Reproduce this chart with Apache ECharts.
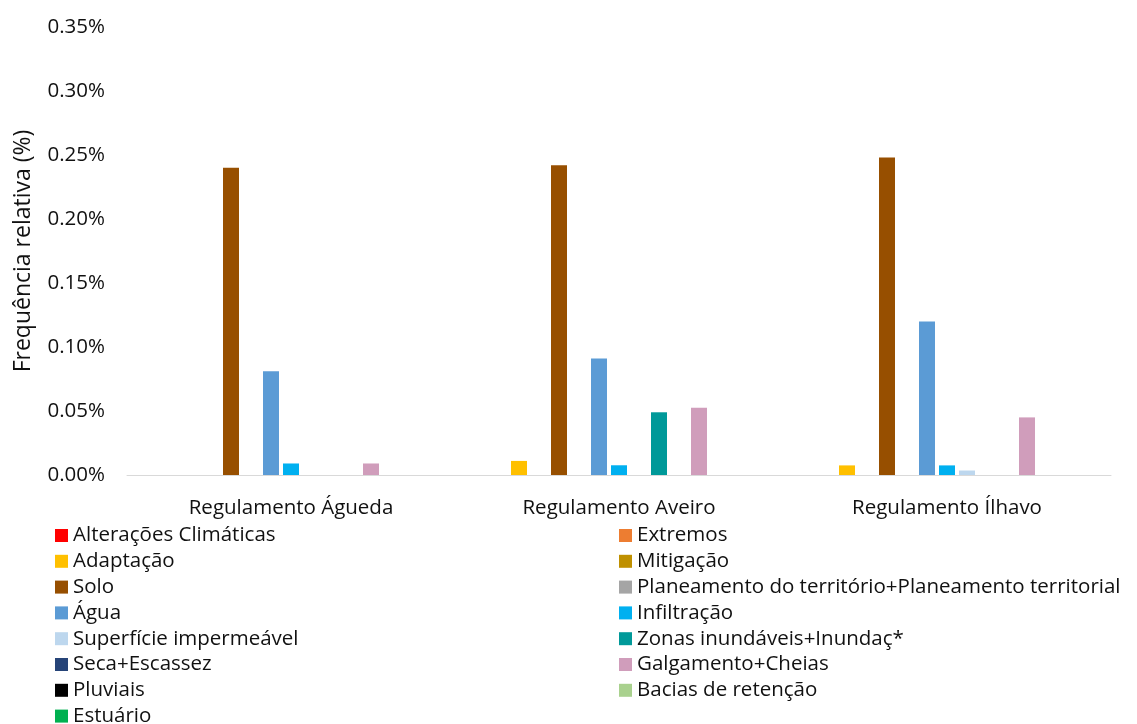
<!DOCTYPE html>
<html>
<head>
<meta charset="utf-8">
<script src="https://cdn.jsdelivr.net/npm/echarts@6/dist/echarts.min.js"></script>
<style>
  html, body { margin: 0; padding: 0; background: #fff; }
  #chart { width: 1137px; height: 724px; }
</style>
</head>
<body>
<div id="chart"></div>
<script>
// Documents compared
const categories = ['Regulamento Águeda', 'Regulamento Aveiro', 'Regulamento Ílhavo'];

// Relative frequency (%) of each term per document
const alteracoesClimaticas = [0, 0, 0];
const extremos = [0, 0, 0];
const adaptacao = [0, 0.011, 0.0075];
const mitigacao = [0, 0, 0];
const solo = [0.240, 0.242, 0.248];
const planeamento = [0, 0, 0];
const agua = [0.081, 0.091, 0.120];
const infiltracao = [0.009, 0.0076, 0.0075];
const superficieImpermeavel = [0, 0, 0.0035];
const zonasInundaveis = [0, 0.049, 0];
const secaEscassez = [0, 0, 0];
const galgamentoCheias = [0.009, 0.0525, 0.045];
const pluviais = [0, 0, 0];
const baciasRetencao = [0, 0, 0];
const estuario = [0, 0, 0];

const yTicks = [0, 0.05, 0.10, 0.15, 0.20, 0.25, 0.30, 0.35];

const seriesDefs = [
  ['Alterações Climáticas', alteracoesClimaticas, '#FF0000'],
  ['Extremos', extremos, '#ED7D31'],
  ['Adaptação', adaptacao, '#FFC000'],
  ['Mitigação', mitigacao, '#BF9000'],
  ['Solo', solo, '#974F00'],
  ['Planeamento do território+Planeamento territorial', planeamento, '#A5A5A5'],
  ['Água', agua, '#5B9BD5'],
  ['Infiltração', infiltracao, '#00B0F0'],
  ['Superfície impermeável', superficieImpermeavel, '#BDD7EE'],
  ['Zonas inundáveis+Inundaç*', zonasInundaveis, '#009999'],
  ['Seca+Escassez', secaEscassez, '#264478'],
  ['Galgamento+Cheias', galgamentoCheias, '#D09DBB'],
  ['Pluviais', pluviais, '#000000'],
  ['Bacias de retenção', baciasRetencao, '#A9D18E'],
  ['Estuário', estuario, '#00B050']
];

const FONT = '"Open Sans", "Liberation Sans", sans-serif';
const TEXT = '#111111';

const names = seriesDefs.map(d => d[0]);
const leftNames = names.filter((_, i) => i % 2 === 0);
const rightNames = names.filter((_, i) => i % 2 === 1);

const legendBase = {
  orient: 'vertical',
  top: 520,
  height: 260,
  itemWidth: 13,
  itemHeight: 13,
  itemGap: 4.8,
  icon: 'rect',
  textStyle: { fontFamily: FONT, fontSize: 20.5, color: TEXT, lineHeight: 20, padding: [0, 0, 0, 0] },
  selectedMode: false
};

const chart = echarts.init(document.getElementById('chart'), null, { renderer: 'canvas' });
chart.setOption({
  animation: false,
  textStyle: { fontFamily: FONT },
  grid: { left: 127, right: 26, top: 27, bottom: 249, containLabel: false },
  legend: [
    Object.assign({}, legendBase, { left: 50, data: leftNames }),
    Object.assign({}, legendBase, { left: 614, data: rightNames })
  ],
  xAxis: {
    type: 'category',
    data: categories,
    axisLine: { lineStyle: { color: '#D9D9D9', width: 1 } },
    axisTick: { show: false },
    axisLabel: { fontFamily: FONT, fontSize: 20.5, color: TEXT, margin: 23 }
  },
  yAxis: {
    type: 'value',
    min: 0,
    max: yTicks[yTicks.length - 1],
    interval: 0.05,
    name: 'Frequência relativa (%)',
    nameLocation: 'middle',
    nameRotate: 90,
    nameGap: 92,
    nameTextStyle: { fontFamily: FONT, fontSize: 23, color: TEXT },
    axisLine: { show: false },
    axisTick: { show: false },
    splitLine: { show: false },
    axisLabel: {
      fontFamily: FONT, fontSize: 20.5, color: TEXT, margin: 22,
      formatter: v => v.toFixed(2) + '%'
    }
  },
  series: seriesDefs.map(([name, data, color]) => ({
    name: name,
    type: 'bar',
    data: data,
    barWidth: 16,
    barGap: '25%',
    itemStyle: { color: color }
  }))
});
</script>
</body>
</html>
